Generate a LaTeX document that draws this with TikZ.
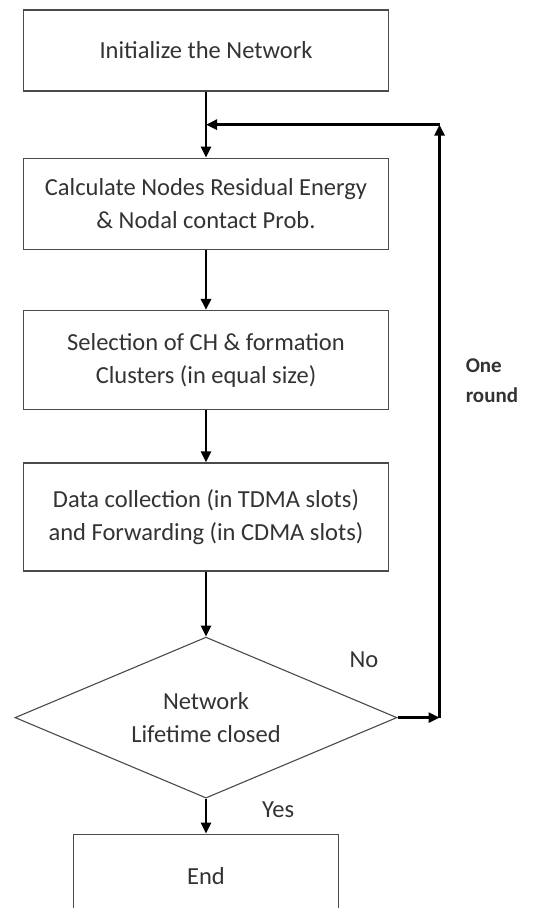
\documentclass[tikz,border=0pt]{standalone}
\usepackage{fontspec}
\setmainfont{Carlito}
\definecolor{boxline}{HTML}{4A4A4A}
\definecolor{boxtext}{HTML}{333333}
\usetikzlibrary{positioning,arrows.meta,shapes.geometric}

\begin{document}
\begin{tikzpicture}[
  x=1pt, y=-1pt,
  >={Triangle[length=11pt,width=10pt]},
  stepbox/.style={
    rectangle, minimum width=365pt, inner sep=0pt,
    align=center, font=\fontsize{24.5}{33}\selectfont, text=boxtext,
    draw=boxline, line width=1.3pt
  },
  decision/.style={
    diamond, aspect=2.37, minimum width=382pt, minimum height=161pt,
    inner sep=0pt, align=center, font=\fontsize{24.5}{33}\selectfont,
    text=boxtext, draw=boxline, line width=1.1pt
  },
  flow/.style={->, line width=2.6pt, black},
  lbl/.style={font=\fontsize{24.5}{30}\selectfont, text=boxtext, inner sep=0pt},
  roundlbl/.style={font=\bfseries\fontsize{21}{30}\selectfont, text=boxtext,
    inner sep=0pt, align=left}
]
\useasboundingbox (0,0) rectangle (536,908);

\node[stepbox, minimum height=81pt] (init) at (206,50.5) {Initialize the Network};
\node[stepbox, minimum height=91pt, below=66pt of init] (energy)
  {Calculate Nodes Residual Energy\\\& Nodal contact Prob.};
\node[stepbox, minimum height=99pt, below=60pt of energy] (cluster)
  {Selection of CH \& formation\\Clusters (in equal size)};
\node[stepbox, minimum height=108pt, below=52pt of cluster] (collect)
  {Data collection (in TDMA slots)\\and Forwarding (in CDMA slots)};
\node[decision, below=65pt of collect] (lifetime) {Network\\Lifetime closed};
\node[stepbox, minimum width=265pt, minimum height=84pt, below=35pt of lifetime]
  (finish) {End};

\coordinate[above=33pt of energy.north] (merge);
\coordinate[right=42pt of lifetime.east] (back);
\coordinate (side) at (back |- cluster);

\node[lbl, above left=50pt and 19pt of lifetime.east] (no) {No};
\node[lbl, below right=3pt and 56pt of lifetime.south] (yes) {Yes};
\node[roundlbl, right=26pt of side, yshift=-21pt] (round) {One\\round};

\draw[flow] (init) -- (energy);
\draw[flow] (energy) -- (cluster);
\draw[flow] (cluster) -- (collect);
\draw[flow] (collect) -- (lifetime);
\draw[flow] (lifetime) -- (finish);
\draw[flow] (lifetime.east) -- (back);
\draw[flow] (back) -- (back |- merge);
\draw[flow] (back |- merge) -- (merge);

\end{tikzpicture}
\end{document}
